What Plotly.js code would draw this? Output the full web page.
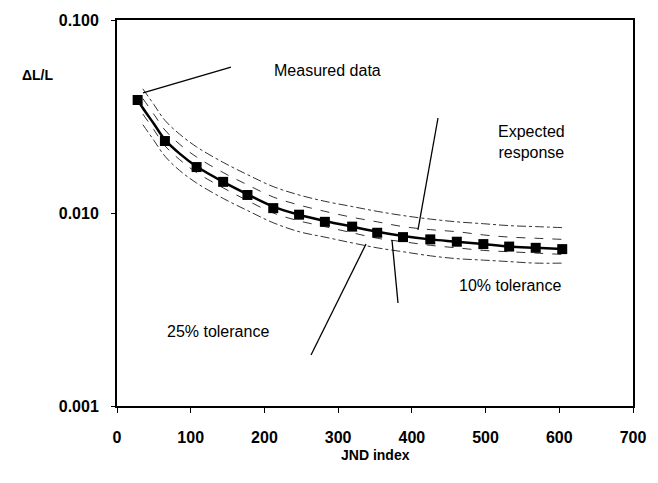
<!DOCTYPE html>
<html>
<head>
<meta charset="utf-8">
<script src="https://cdn.plot.ly/plotly-3.0.1.min.js"></script>
<style>html,body{margin:0;padding:0;background:#fff;}#chart{width:658px;height:483px;}</style>
</head>
<body>
<div id="chart"></div>
<script>
// Measured data (squares)
const measuredX = [28, 65, 108, 144, 177, 212, 247, 282, 319, 353, 388, 425, 461, 497, 532, 568, 604];
const measuredY = [0.0385, 0.0236, 0.0173, 0.0145, 0.0124, 0.0106, 0.0098, 0.0090, 0.0085, 0.0079, 0.0075, 0.0073, 0.0071, 0.0069, 0.0067, 0.0066, 0.0065];

// Expected response and tolerance curves
const curveX   = [35, 50, 65, 85, 108, 144, 177, 212, 247, 282, 319, 353, 388, 425, 461, 497, 532, 568, 604];
const expectedX = [28].concat(curveX);
const expectedY = [0.0385, 0.0350, 0.0290, 0.0240, 0.0203, 0.0174, 0.0145, 0.0125, 0.0108, 0.0098, 0.0091, 0.0085, 0.0080, 0.0076, 0.0073, 0.0071, 0.0069, 0.0067, 0.0066, 0.0065];
const upper25 = [0.0440, 0.0365, 0.0302, 0.0256, 0.0220, 0.0183, 0.0158, 0.0137, 0.0124, 0.0115, 0.0108, 0.0102, 0.0097, 0.0093, 0.0090, 0.0088, 0.0086, 0.0085, 0.0084];
const upper10 = [0.0392, 0.0325, 0.0269, 0.0227, 0.0195, 0.0162, 0.0140, 0.0121, 0.0110, 0.0102, 0.0095, 0.0090, 0.0085, 0.0082, 0.0080, 0.0077, 0.0075, 0.0074, 0.0073];
const lower10 = [0.0326, 0.0270, 0.0223, 0.0189, 0.0162, 0.0135, 0.0116, 0.0100, 0.0091, 0.0085, 0.0079, 0.0074, 0.0071, 0.0068, 0.0066, 0.0064, 0.0063, 0.0062, 0.0061];
const lower25 = [0.0287, 0.0238, 0.0197, 0.0166, 0.0143, 0.0119, 0.0103, 0.0089, 0.0080, 0.0075, 0.0070, 0.0066, 0.0063, 0.0060, 0.0058, 0.0057, 0.0056, 0.0055, 0.0055];

const xTicks = [0, 100, 200, 300, 400, 500, 600, 700];
const yTickVals = [0.001, 0.01, 0.1];
const yTickText = ["0.001", "0.010", "0.100"];

const FONT = "Liberation Sans, Arial, sans-serif";
const tolLine = (dash) => ({color: '#333', width: 1, dash: dash, shape: 'spline'});

const traces = [
  {x: curveX, y: upper25, mode: 'lines', line: tolLine('dashdot'), hoverinfo: 'skip'},
  {x: curveX, y: lower25, mode: 'lines', line: tolLine('dashdot'), hoverinfo: 'skip'},
  {x: curveX, y: upper10, mode: 'lines', line: tolLine('dash'), hoverinfo: 'skip'},
  {x: curveX, y: lower10, mode: 'lines', line: tolLine('dash'), hoverinfo: 'skip'},
  {x: expectedX, y: expectedY, mode: 'lines', line: {color: '#000', width: 2.5, shape: 'spline'}},
  {x: measuredX, y: measuredY, mode: 'markers', marker: {symbol: 'square', size: 10, color: '#000'}}
];

const seg = (x0, y0, x1, y1) => ({type: 'line', xref: 'paper', yref: 'paper', x0, y0, x1, y1, line: {color: '#000', width: 1.3}});
const txt = (x, y, text) => ({xref: 'paper', yref: 'paper', x, y, text, showarrow: false, xanchor: 'center', yanchor: 'middle', font: {family: FONT, size: 16, color: '#000'}});

const layout = {
  width: 658, height: 483,
  margin: {l: 117, r: 25, t: 20, b: 77},
  paper_bgcolor: '#fff', plot_bgcolor: '#fff',
  showlegend: false,
  font: {family: FONT, color: '#000'},
  xaxis: {
    range: [0, 700], tickvals: xTicks, ticks: 'outside', ticklen: 5, tickcolor: '#000',
    showline: true, linecolor: '#000', linewidth: 2, mirror: true, showgrid: false, zeroline: false,
    tickfont: {family: FONT, size: 16, weight: 'bold'}, ticklabelstandoff: 11
  },
  yaxis: {
    type: 'log', range: [-3, -1], tickvals: yTickVals, ticktext: yTickText, ticks: 'outside', ticklen: 4, tickcolor: '#000',
    showline: true, linecolor: '#000', linewidth: 2, mirror: true, showgrid: false, zeroline: false,
    tickfont: {family: FONT, size: 16, weight: 'bold'}, ticklabelstandoff: 9
  },
  shapes: [
    seg(0.0504, 0.8109, 0.2209, 0.8782),
    seg(0.6221, 0.7461, 0.5833, 0.4560),
    seg(0.5446, 0.2668, 0.5329, 0.4301),
    seg(0.3760, 0.1321, 0.4826, 0.4197)
  ],
  annotations: [
    txt(0.407, 0.868, 'Measured data'),
    txt(0.804, 0.684, 'Expected<br>response'),
    txt(0.762, 0.311, '10% tolerance'),
    txt(0.196, 0.194, '25% tolerance'),
    {xref: 'paper', yref: 'paper', x: 0.5, y: -0.127, text: 'JND index', showarrow: false, xanchor: 'center', yanchor: 'middle', font: {family: FONT, size: 14, weight: 'bold', color: '#000'}},
    {xref: 'paper', yref: 'paper', x: -0.153, y: 0.857, text: 'ΔL/L', showarrow: false, xanchor: 'center', yanchor: 'middle', font: {family: FONT, size: 14, weight: 'bold', color: '#000'}}
  ]
};

Plotly.newPlot('chart', traces, layout, {displayModeBar: false, staticPlot: true});
</script>
</body>
</html>
